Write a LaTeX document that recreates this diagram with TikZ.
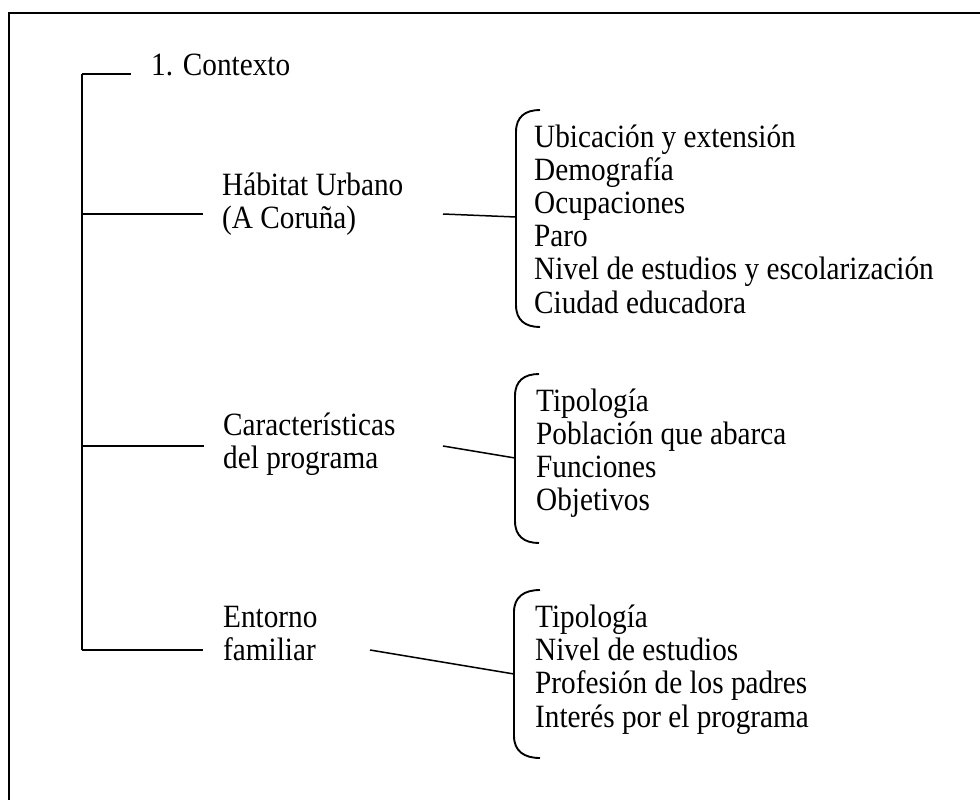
\documentclass[tikz,border=0pt]{standalone}
\usepackage{fontspec}
\setmainfont{Liberation Serif}[FakeStretch=0.9]
\begin{document}
\begin{tikzpicture}[x=1pt,y=-1pt,
  txt/.style={anchor=base west, inner sep=0pt, font=\fontsize{32.5}{33}\selectfont},
  frameline/.style={line width=2pt},
  trunkline/.style={line width=2pt},
  headline/.style={line width=2.5pt},
  branchline/.style={line width=1.4pt},
  linkline/.style={line width=1.5pt},
  braceline/.style={line width=1.9pt}]
\useasboundingbox (0,0) rectangle (980,800);
\clip (0,0) rectangle (980,800);
% frame (continues beyond the picture on the right and bottom)
\draw[frameline] (9,820) -- (9,13) -- (1000,13);

% labels
\node[txt] (ctx) at (151,76) {1. Contexto};
\node[txt] (hab1) at (222,195) {Hábitat Urbano};
\node[txt] (hab2) at (222,228) {(A Coruña)};
\node[txt] (car1) at (223,435) {Características};
\node[txt] (car2) at (223,468) {del programa};
\node[txt] (ent1) at (223,627) {Entorno};
\node[txt] (ent2) at (223,660) {familiar};

% lists
\node[txt] (u1) at (534,147) {Ubicación y extensión};
\node[txt] (u2) at (534,180.2) {Demografía};
\node[txt] (u3) at (534,213.4) {Ocupaciones};
\node[txt] (u4) at (534,246.6) {Paro};
\node[txt] (u5) at (534,279.8) {Nivel de estudios y escolarización};
\node[txt] (u6) at (534,313) {Ciudad educadora};

\node[txt] (m1) at (536,411) {Tipología};
\node[txt] (m2) at (536,444) {Población que abarca};
\node[txt] (m3) at (536,477) {Funciones};
\node[txt] (m4) at (536,510) {Objetivos};

\node[txt] (l1) at (535,627) {Tipología};
\node[txt] (l2) at (535,660.3) {Nivel de estudios};
\node[txt] (l3) at (535,693.6) {Profesión de los padres};
\node[txt] (l4) at (535,727) {Interés por el programa};

% tree coordinates
\coordinate (ttop) at (82,74);
\coordinate (tctx) at (131,74);
\coordinate (thab) at (82,214);
\coordinate (thabE) at (203,214);
\coordinate (tcar) at (82,446);
\coordinate (tcarE) at (204,446);
\coordinate (tent) at (82,650);
\coordinate (tentE) at (203,650);

\draw[headline] (ttop) -- (tctx);
\draw[trunkline] (ttop) -- (tent);
\draw[branchline] (thab) -- (thabE);
\draw[branchline] (tcar) -- (tcarE);
\draw[branchline] (tent) -- (tentE);

% connectors to braces
\coordinate (habout) at (443,214);
\coordinate (habin) at (516,217);
\coordinate (carout) at (443,446);
\coordinate (carin) at (515,458);
\coordinate (entout) at (370,650);
\coordinate (entin) at (514,674);
\draw[linkline] (habout) -- (habin);
\draw[linkline] (carout) -- (carin);
\draw[linkline] (entout) -- (entin);

% braces
\draw[braceline] (540,110) .. controls (525,110) and (516,117) .. (516,132)
  -- (516,305) .. controls (516,320) and (525,327) .. (540,327);
\draw[braceline] (539,374) .. controls (524,374) and (515,381) .. (515,396)
  -- (515,521) .. controls (515,536) and (524,543) .. (539,543);
\draw[braceline] (540,590) .. controls (524,590) and (514,597) .. (514,612)
  -- (514,736) .. controls (514,751) and (524,758) .. (540,758);
\end{tikzpicture}
\end{document}
